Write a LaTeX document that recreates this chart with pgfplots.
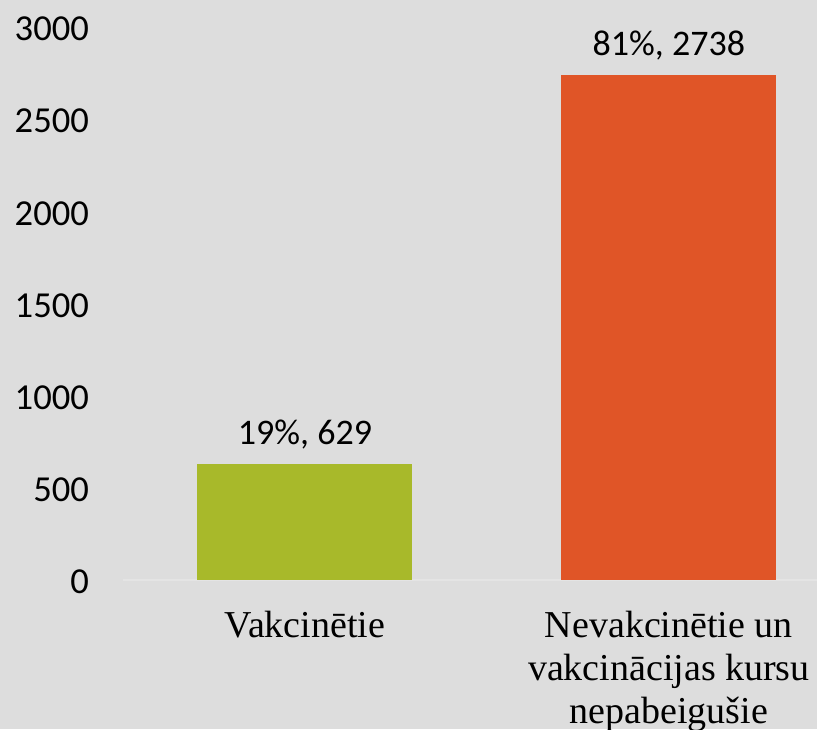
\documentclass[border=0pt]{standalone}
\usepackage{fontspec}
\setmainfont{Liberation Serif}
\newfontfamily\carlito{Carlito}
\usepackage{pgfplots}
\pgfplotsset{compat=1.18}
\definecolor{bg}{HTML}{DDDDDD}
\definecolor{basel}{HTML}{E4E4E4}
\definecolor{vgreen}{HTML}{A8B92A}
\definecolor{vorange}{HTML}{E05527}
\newcommand{\lbl}[1]{\begin{tabular}[t]{@{}c@{}}#1\end{tabular}}
\begin{document}
\begin{tikzpicture}[x=1pt,y=1pt]
\fill[bg] (-61.5pt,-74.5pt) rectangle (347pt,290pt);
\useasboundingbox (-61.5pt,-74.5pt) rectangle (347pt,290pt);
\begin{axis}[
  at={(0,0)}, anchor=south west,
  scale only axis,
  width=347pt, height=276.5pt,
  xmin=-0.5, xmax=1.407,
  ymin=0, ymax=3000,
  axis line style={draw=none},
  axis x line*=bottom,
  axis y line*=left,
  ytick={0,500,1000,1500,2000,2500,3000},
  yticklabel style={font=\carlito\fontsize{18.3}{21}\selectfont, anchor=east, yshift=-1pt},
  /pgf/number format/assume math mode=true,
  /pgf/number format/1000 sep={},
  major tick length=0pt,
  yticklabel shift=13.5pt,
  xtick={0,1},
  xticklabels={\lbl{Vakcinētie},\lbl{Nevakcinētie un\\vakcinācijas kursu\\nepabeigušie}},
  xticklabel style={font=\fontsize{19}{21.5}\selectfont, anchor=base, inner sep=0pt, yshift=-28.5pt},
  ybar, bar width=107.5pt, bar shift=0pt,
  point meta=explicit symbolic,
  nodes near coords,
  nodes near coords style={font=\carlito\fontsize{18}{21}\selectfont, anchor=base, inner sep=0pt, yshift=10pt},
  clip=false,
]
\draw[basel, line width=0.75pt] (axis cs:-0.5,0) -- (axis cs:1.407,0);
\addplot[fill=vgreen, draw=none] coordinates {(0,629) [19\%, 629]};
\addplot[fill=vorange, draw=none] coordinates {(1,2738) [81\%, 2738]};
\end{axis}
\end{tikzpicture}
\end{document}
